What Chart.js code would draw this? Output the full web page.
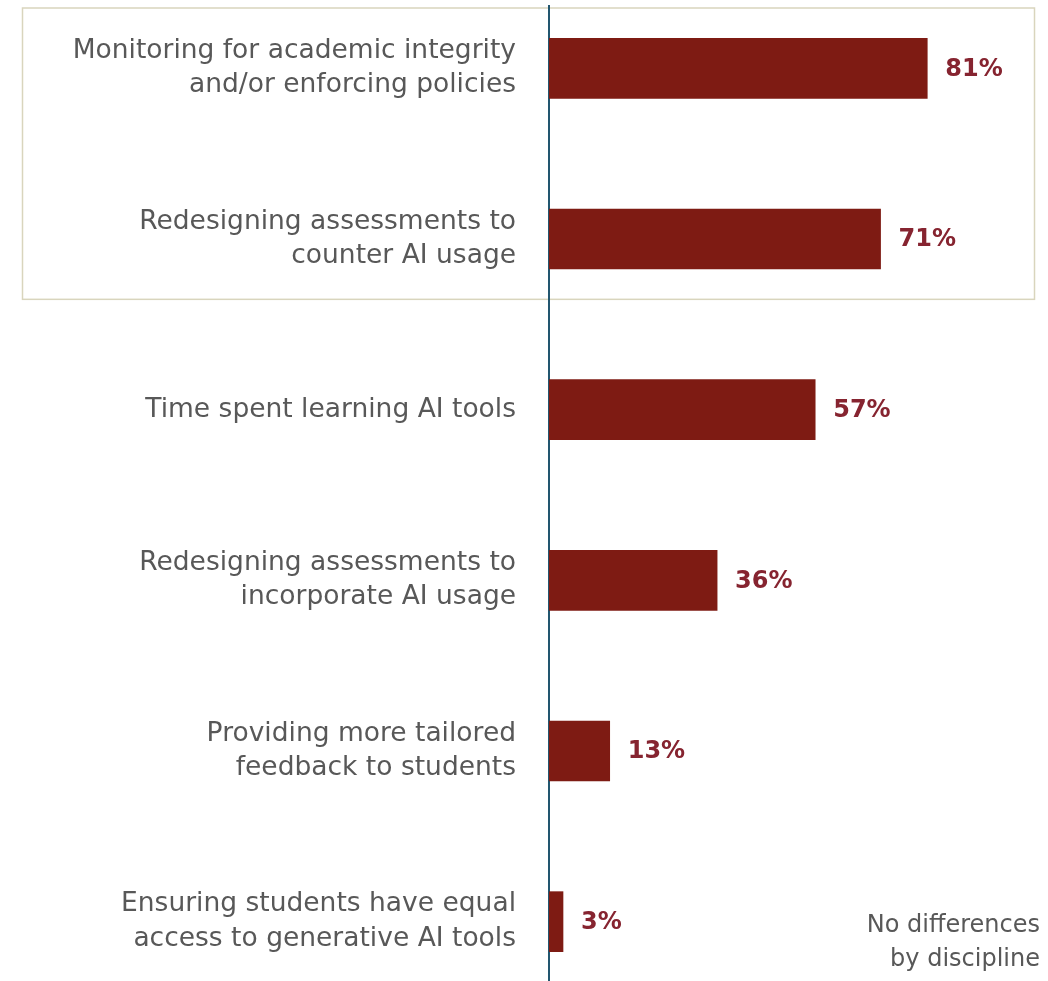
<!DOCTYPE html>
<html>
<head>
<meta charset="utf-8">
<script src="https://cdn.jsdelivr.net/npm/chart.js@4"></script>
<style>
  body { margin: 0; background: #fff; }
  #wrap { position: relative; width: 1048px; height: 981px; overflow: hidden; }
  #chart { position: absolute; left: 0; top: -17px; }
</style>
</head>
<body>
<div id="wrap"><canvas id="chart" width="1048" height="1024"></canvas></div>
<script>
// labels (split over two lines where the wording wraps)
const labels = [
  ['Monitoring for academic integrity', 'and/or enforcing policies'],
  ['Redesigning assessments to', 'counter AI usage'],
  'Time spent learning AI tools',
  ['Redesigning assessments to', 'incorporate AI usage'],
  ['Providing more tailored', 'feedback to students'],
  ['Ensuring students have equal', 'access to generative AI tools']
];
const shares = [81, 71, 57, 36, 13, 3];
const noteLines = ['No differences', 'by discipline'];
const boxedRows = 2; // the first two rows sit inside the outlined box

const BAR_RED = '#7e1b13';
const TEXT_GREY = '#585858';
const FONT = '"DejaVu Sans"';

// outline box, axis line, value labels and the corner note
const extras = {
  id: 'extras',
  beforeDatasetsDraw(chart) {
    const { ctx, chartArea, scales } = chart;
    const y = scales.y;
    const top = 25;
    const gap = y.getPixelForValue(0) - top;
    const bottom = y.getPixelForValue(boxedRows - 1) + gap;
    ctx.save();
    ctx.strokeStyle = '#d9d5bd';
    ctx.lineWidth = 1.5;
    ctx.strokeRect(22.5, top, 1012, bottom - top);

    ctx.strokeStyle = '#22566f';
    ctx.lineWidth = 2;
    ctx.beginPath();
    ctx.moveTo(chartArea.left, 22);
    ctx.lineTo(chartArea.left, chartArea.bottom);
    ctx.stroke();
    ctx.restore();
  },
  afterDatasetsDraw(chart) {
    const { ctx } = chart;
    const meta = chart.getDatasetMeta(0);
    ctx.save();
    ctx.fillStyle = '#862430';
    ctx.font = 'bold 24px ' + FONT;
    ctx.textBaseline = 'middle';
    ctx.textAlign = 'left';
    meta.data.forEach((bar, i) => {
      ctx.fillText(shares[i] + '%', bar.x + 18, bar.y + 1);
    });

    ctx.fillStyle = TEXT_GREY;
    ctx.font = '24px ' + FONT;
    ctx.textAlign = 'right';
    noteLines.forEach((t, i) => {
      ctx.fillText(t, 1040, 943 + i * 34);
    });
    ctx.restore();
  }
};

new Chart(document.getElementById('chart'), {
  type: 'bar',
  data: {
    labels: labels,
    datasets: [{
      data: shares,
      backgroundColor: BAR_RED,
      barThickness: 60
    }]
  },
  options: {
    indexAxis: 'y',
    responsive: false,
    animation: false,
    layout: { padding: { left: 0, right: 32, top: 0, bottom: 0 } },
    plugins: {
      legend: { display: false },
      tooltip: { enabled: false }
    },
    scales: {
      x: {
        display: false,
        min: 0,
        max: 100
      },
      y: {
        afterFit(scale) {
          scale.width = 549;
          // rows fill the full height, no room kept for label overhang
          scale.paddingTop = 0;
          scale.paddingBottom = 0;
        },
        grid: { display: false, drawTicks: false },
        border: { display: false },
        ticks: {
          color: TEXT_GREY,
          padding: 33,
          font: { family: FONT, size: 26.5, lineHeight: 1.3 }
        }
      }
    }
  },
  plugins: [extras]
});
</script>
</body>
</html>
